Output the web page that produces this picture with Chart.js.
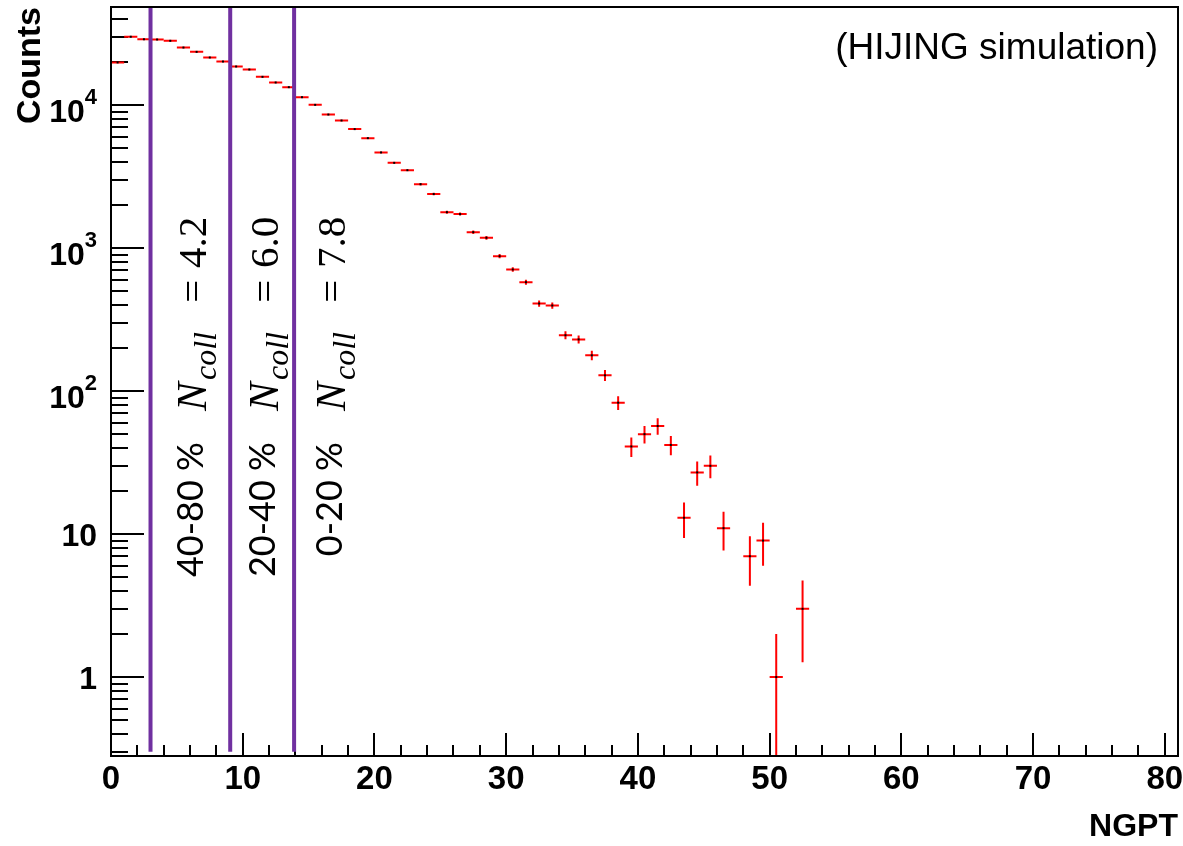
<!DOCTYPE html>
<html><head><meta charset="utf-8">
<script src="https://cdn.jsdelivr.net/npm/chart.js@4/dist/chart.umd.min.js"></script>
<style>html,body{margin:0;padding:0;background:#fff;overflow:hidden}#wrap{width:1183px;height:846px}</style>
</head><body><div id="wrap"><canvas id="c" width="1183" height="846"></canvas></div>
<script>
// ---- data ----
const binWidth = 1;
const binCenters = [0.5,1.5,2.5,3.5,4.5,5.5,6.5,7.5,8.5,9.5,10.5,11.5,12.5,13.5,14.5,15.5,16.5,17.5,18.5,19.5,
  20.5,21.5,22.5,23.5,24.5,25.5,26.5,27.5,28.5,29.5,30.5,31.5,32.5,33.5,34.5,35.5,36.5,37.5,38.5,39.5,
  40.5,41.5,42.5,43.5,44.5,45.5,46.5,47.5,48.5,49.5,50.5,51.5,52.5];
const counts = [19900,30100,28900,28800,28200,25300,23600,21550,20200,18640,17760,15780,14410,13360,11370,10050,8600,7810,6800,5880,
  4670,3950,3510,2800,2390,1785,1730,1294,1181,879,709,578,410,397,246,230,178,129,83,41,
  50,57,42,13,27,30,11,0,7,9,1,0,3];
const cutPositions = [3.0, 9.05, 13.9];
const cutLineRange = [0.30, 48600];
const centralityLabels = ['40-80 %', '20-40 %', '0-20 %'];
const ncollValues = ['4.2', '6.0', '7.8'];
const labelBaselineX = [7.02, 12.48, 17.55];
const labelAnchorY = 44;
const xTickValues = [0,10,20,30,40,50,60,70,80];
const xTickLabels = ['0','10','20','30','40','50','60','70','80'];
const yTickValues = [1,10,100,1000,10000];
const yTickBase = ['1','10','10','10','10'];
const yTickExp = ['','','2','3','4'];
const xRange = [0, 81];
const yRange = [0.2803, 48600];
const xTitle = 'NGPT';
const yTitle = 'Counts';
const noteText = '(HIJING simulation)';

const SANS = '"Liberation Sans", Arial, sans-serif';

const rootPlugin = {
  id: 'rootStyle',
  beforeDatasetsDraw(chart) {
    const {ctx, chartArea: a, scales: {x, y}} = chart;
    ctx.save();
    // ticks inside the frame (drawn under the data)
    ctx.strokeStyle = '#000'; ctx.lineWidth = 2;
    ctx.beginPath();
    for (let d = -1; d <= 4; d++) {
      for (let m = 1; m <= 9; m++) {
        const v = m * Math.pow(10, d);
        if (v < yRange[0] || v > yRange[1]) continue;
        const py = Math.round(y.getPixelForValue(v));
        const len = m === 1 ? 33 : 17;
        ctx.moveTo(a.left, py); ctx.lineTo(a.left + len, py);
      }
    }
    for (let v = 0; v <= 80; v += 2) {
      const px = Math.round(x.getPixelForValue(v));
      const len = v % 10 === 0 ? 23 : 11;
      ctx.moveTo(px, a.bottom); ctx.lineTo(px, a.bottom - len);
    }
    ctx.stroke();
    // histogram with error bars
    ctx.beginPath(); ctx.rect(a.left, a.top, a.right - a.left, a.bottom - a.top); ctx.clip();
    ctx.strokeStyle = '#ff0000'; ctx.lineWidth = 2;
    chart.data.datasets[0].data.forEach(p => {
      if (p.y <= 0) return;
      const err = Math.sqrt(p.y);
      const px = x.getPixelForValue(p.x), py = y.getPixelForValue(p.y);
      const xl = x.getPixelForValue(p.x - binWidth / 2), xr = x.getPixelForValue(p.x + binWidth / 2);
      const lo = p.y - err;
      const yl = lo > 0 ? y.getPixelForValue(lo) : a.bottom + 5;
      const yh = y.getPixelForValue(p.y + err);
      ctx.beginPath();
      ctx.moveTo(xl, py); ctx.lineTo(xr, py);
      ctx.moveTo(px, yl); ctx.lineTo(px, yh);
      ctx.stroke();
    });
    ctx.fillStyle = '#000';
    chart.data.datasets[0].data.forEach(p => {
      if (p.y <= 0) return;
      const px = x.getPixelForValue(p.x), py = y.getPixelForValue(p.y);
      ctx.fillRect(px - 1, py - 1, 2, 2);
    });
    ctx.restore();
  },
  afterDraw(chart) {
    const {ctx, chartArea: a, scales: {x, y}} = chart;
    ctx.save();
    ctx.strokeStyle = '#000'; ctx.lineWidth = 2;
    // frame
    ctx.strokeRect(a.left, a.top, a.right - a.left, a.bottom - a.top);
    // y tick labels (with superscript exponents)
    ctx.fillStyle = '#000';
    ctx.textBaseline = 'alphabetic';
    const rightX = a.left - 14;
    yTickValues.forEach((v, i) => {
      const py = y.getPixelForValue(v);
      const base = yTickBase[i], ex = yTickExp[i];
      ctx.font = 'bold 22px ' + SANS;
      const ew = ex ? ctx.measureText(ex).width : 0;
      ctx.font = 'bold 32px ' + SANS;
      ctx.textAlign = 'right';
      if (ex) {
        ctx.fillText(base, rightX - ew, py + 17);
        ctx.font = 'bold 22px ' + SANS;
        ctx.fillText(ex, rightX, py - 1);
      } else {
        ctx.fillText(base, rightX, py + 11.5);
      }
    });
    // note
    ctx.font = '37px ' + SANS;
    ctx.textAlign = 'right';
    ctx.fillText(noteText, a.right - 20, a.top + 52);
    // rotated centrality labels
    centralityLabels.forEach((lab, i) => {
      const bx = x.getPixelForValue(labelBaselineX[i]);
      const ay = y.getPixelForValue(labelAnchorY);
      ctx.save();
      ctx.translate(bx, ay);
      ctx.rotate(-Math.PI / 2);
      ctx.fillStyle = '#000';
      ctx.textBaseline = 'alphabetic';
      ctx.font = '36px Lato, "Open Sans", sans-serif';
      ctx.textAlign = 'right';
      ctx.fillText(lab, 0, 0);
      ctx.textAlign = 'left';
      ctx.font = 'italic 43px "Liberation Serif", serif';
      ctx.fillText('N', 31, 3);
      ctx.font = 'italic 32px "Liberation Serif", serif';
      ctx.fillText('coll', 62, 13);
      ctx.font = '41px "Liberation Serif", serif';
      ctx.textAlign = 'center';
      ctx.fillText('=', 151, 3);
      ctx.textAlign = 'left';
      ctx.fillText(ncollValues[i], 174, 3);
      ctx.restore();
    });
    ctx.restore();
  }
};

const boldFont = (s) => ({family: SANS, weight: 'bold', size: s});

new Chart(document.getElementById('c'), {
  type: 'scatter',
  data: {
    datasets: [
      {label: 'NGPT', data: binCenters.map((c, i) => ({x: c, y: counts[i]})), pointRadius: 0, showLine: false},
      ...cutPositions.map(c => ({
        type: 'line', label: 'cut', data: [{x: c, y: cutLineRange[0]}, {x: c, y: cutLineRange[1]}],
        borderColor: '#7030A0', borderWidth: 4, pointRadius: 0, showLine: true, fill: false
      }))
    ]
  },
  options: {
    responsive: false, animation: false, devicePixelRatio: 1,
    layout: {padding: {left: 0, right: 5, top: 7, bottom: 0}},
    plugins: {legend: {display: false}, tooltip: {enabled: false}},
    scales: {
      x: {
        type: 'linear', min: xRange[0], max: xRange[1],
        grid: {display: false, drawTicks: false}, border: {display: false},
        afterBuildTicks: s => { s.ticks = xTickValues.map(v => ({value: v})); },
        afterFit: s => { s.height = 90; s.paddingLeft = 0; s.paddingRight = 0; s.paddingTop = 0; s.paddingBottom = 0; },
        ticks: {color: '#000', font: boldFont(33), padding: 4, maxRotation: 0, autoSkip: false,
          callback: (v, i) => xTickLabels[i]},
        title: {display: true, text: xTitle, align: 'end', color: '#000', font: boldFont(32), padding: {top: 0, bottom: 0}}
      },
      y: {
        type: 'logarithmic', min: yRange[0], max: yRange[1],
        grid: {display: false, drawTicks: false}, border: {display: false},
        afterBuildTicks: s => { s.ticks = yTickValues.map(v => ({value: v})); },
        afterFit: s => { s.width = 111; s.paddingLeft = 0; s.paddingRight = 0; s.paddingTop = 0; s.paddingBottom = 0; },
        ticks: {display: false},
        title: {display: true, text: yTitle, align: 'end', color: '#000', font: boldFont(34), padding: {top: 10, bottom: 0}}
      }
    }
  },
  plugins: [rootPlugin]
});
</script></body></html>
